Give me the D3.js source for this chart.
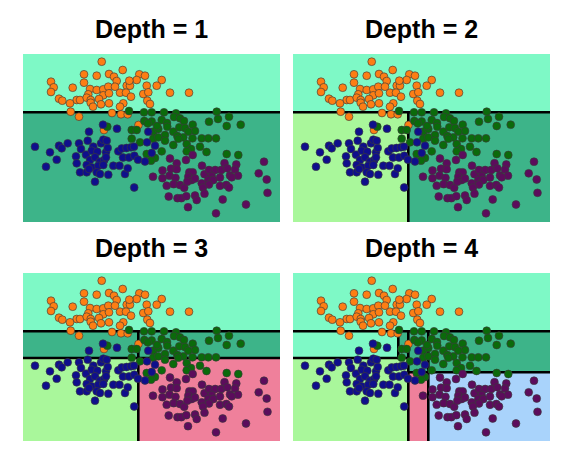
<!DOCTYPE html>
<html>
<head>
<meta charset="utf-8">
<title>decision tree depths</title>
<script src="https://cdn.jsdelivr.net/npm/d3@7"></script>
<style>
  body { margin: 0; background: #fff; }
  .title { font-family: "Liberation Sans", Arial, sans-serif; font-weight: bold; font-size: 25px; }
</style>
</head>
<body>
<div id="chart"></div>
<script>
// panel titles / tree depth shown in each panel
var depths = [1, 2, 3, 4];

// points per class, [feature 1, feature 2]
var orangePts = [[7.87,16.03],[6.10,14.77],[7.37,14.63],[8.60,14.80],[9.10,14.53],[9.37,14.10],[9.97,15.20],
  [11.63,14.77],[12.20,14.63],[11.37,14.20],[13.87,14.20],[2.80,14.03],[3.07,13.47],[2.80,13.00],[6.10,13.93],
  [4.97,13.43],[6.70,13.30],[7.37,13.20],[8.03,13.27],[8.53,13.53],[10.37,13.63],[10.70,13.63],[12.37,13.63],
  [13.37,13.63],[6.53,12.77],[8.03,12.67],[8.60,12.87],[9.70,12.93],[10.30,12.93],[10.80,12.53],[12.03,12.80],
  [12.53,12.97],[14.70,12.93],[16.60,12.93],[3.60,12.33],[3.93,12.13],[5.37,12.20],[5.70,12.20],[6.37,12.43],
  [6.77,12.20],[7.60,12.30],[4.70,11.87],[6.77,11.93],[7.00,11.53],[7.80,11.77],[8.60,11.87],[10.03,11.87],
  [9.70,11.53],[12.43,12.13],[12.70,11.80],[4.77,11.03],[5.60,10.53],[8.90,10.90],[9.80,10.77],[10.47,10.77],
  [11.55,9.70],[8.10,9.20],[10.63,14.13],[9.20,13.53]];
var greenPts = [[10.60,11.10],[12.10,10.97],[12.87,10.97],[14.10,10.97],[15.30,10.87],[15.10,10.50],[15.70,10.37],
  [16.10,10.10],[19.37,11.03],[19.50,10.30],[20.60,10.53],[18.60,10.03],[20.37,9.60],[21.77,9.73],[16.97,9.73],
  [12.13,10.10],[12.87,10.05],[13.87,10.20],[14.40,9.90],[8.43,9.53],[10.87,9.20],[11.37,9.20],[12.47,9.87],
  [13.03,9.03],[13.53,9.30],[13.40,9.60],[14.43,9.53],[15.03,9.03],[15.63,9.47],[16.20,9.40],[17.20,9.10],
  [16.53,9.03],[14.20,8.70],[15.43,8.60],[16.03,8.47],[16.95,8.37],[17.87,8.37],[18.53,8.37],[19.30,8.37],
  [10.87,8.33],[11.70,7.97],[13.03,8.33],[13.53,8.47],[14.20,8.13],[15.03,7.70],[16.37,7.80],[16.80,7.30],
  [16.37,7.07],[13.87,7.07],[12.37,6.80],[13.20,6.40],[12.80,6.13],[17.70,7.53],[18.35,7.00],[20.37,6.80],
  [21.53,6.70],[15.53,8.33]];
var bluePts = [[1.20,7.53],[2.70,6.97],[2.30,5.53],[3.37,6.23],[3.60,7.63],[3.87,7.37],[4.47,7.87],[5.60,7.87],
  [6.47,8.13],[5.80,7.30],[7.03,7.53],[7.80,7.87],[8.03,8.23],[5.30,6.57],[6.30,6.73],[6.87,7.13],[7.43,7.03],
  [8.30,6.97],[8.47,7.40],[5.37,5.87],[6.70,6.20],[7.20,6.47],[7.70,6.03],[8.13,6.20],[6.37,5.70],[6.87,5.47],
  [7.53,5.63],[8.03,5.70],[5.70,4.97],[6.37,4.97],[7.37,4.97],[7.70,4.80],[7.20,4.03],[8.53,4.73],[6.60,5.30],
  [8.30,6.47],[9.03,5.63],[9.65,5.63],[9.53,7.07],[9.87,7.35],[10.35,7.40],[10.80,7.47],[11.10,7.53],
  [10.00,6.45],[10.60,6.45],[11.13,6.63],[11.50,6.23],[12.20,6.05],[12.40,7.97],[12.87,6.90],[13.20,7.63],
  [10.20,4.80],[10.47,5.37],[11.12,3.45],[8.00,9.73],[6.60,9.03],[9.40,9.33],[12.53,9.03],[8.37,8.13]];
var purplePts = [[14.70,6.35],[15.37,5.87],[16.30,6.20],[16.97,6.70],[14.80,5.33],[15.37,5.28],[13.95,5.15],
  [13.00,4.53],[13.95,4.38],[14.65,4.63],[15.25,4.42],[14.37,3.63],[15.07,3.78],[15.70,3.70],[16.12,3.42],
  [16.63,4.97],[16.97,4.97],[16.53,4.53],[16.87,4.20],[16.43,4.03],[17.20,4.35],[17.90,5.63],[18.15,4.78],
  [18.60,5.20],[19.22,5.20],[19.82,5.20],[18.87,4.60],[18.53,4.20],[19.03,4.20],[19.70,4.45],[20.15,5.88],
  [20.43,5.37],[20.70,4.65],[21.33,5.75],[21.20,5.25],[21.50,4.63],[20.87,4.47],[17.87,3.87],[18.60,3.75],
  [18.00,3.45],[19.70,3.62],[20.33,3.70],[20.60,3.45],[18.15,2.83],[14.57,2.55],[15.45,2.38],[15.83,2.38],
  [16.33,2.58],[17.20,2.65],[17.37,2.20],[19.97,2.25],[16.50,1.48],[19.30,0.87],[22.30,1.75],[23.57,4.87],
  [24.10,6.03],[24.37,4.25],[24.45,2.92]];

// splits of the tree fitted at each max depth: depth of the split, feature, threshold
// (the depth-3 and depth-4 fits put the right-hand y split at different heights)
var treeSplits = [
  {id: 'root', depth: 1, axis: 'y', at: 10.97, lo: 'A',   hi: 'top', fits: [1, 2, 3, 4]},
  {id: 'A',    depth: 2, axis: 'x', at: 11.53, lo: 'B',   hi: 'C',   fits: [2, 3, 4]},
  {id: 'B',    depth: 3, axis: 'y', at: 8.30,  lo: 'B1',  hi: 'B2',  fits: [3, 4]},
  {id: 'C',    depth: 3, axis: 'y', at: 8.30,  lo: 'C1',  hi: 'C2',  fits: [3]},
  {id: 'C',    depth: 3, axis: 'y', at: 6.87,  lo: 'C1',  hi: 'C2',  fits: [4]},
  {id: 'B2',   depth: 4, axis: 'x', at: 10.53, lo: 'B2a', hi: 'B2b', fits: [4]},
  {id: 'C1',   depth: 4, axis: 'x', at: 13.53, lo: 'C1a', hi: 'C1b', fits: [4]},
  {id: 'C2',   depth: 4, axis: 'x', at: 13.53, lo: 'C2a', hi: 'C2b', fits: [4]}
];
// predicted region of each node
var nodeRegion = {root: 'teal', top: 'aqua', A: 'teal', B: 'lime', C: 'teal', B1: 'lime', B2: 'teal',
  C1: 'pink', C2: 'teal', B2a: 'aqua', B2b: 'teal', C1a: 'pink', C1b: 'sky', C2a: 'teal', C2b: 'teal'};

var regionColor = {aqua: '#7ef9c6', teal: '#3db489', lime: '#a9f79b', pink: '#ef809b', sky: '#a9d3fb'};
var classes = [
  {pts: orangePts, color: '#fd7e14'},
  {pts: greenPts,  color: '#0b6a0b'},
  {pts: bluePts,   color: '#0f0f8c'},
  {pts: purplePts, color: '#5c0c5c'}
];

var W = 576, H = 474;
var panelW = 257, panelH = 168;
var panelPos = [[23, 54], [293, 54], [23, 273], [293, 273]];

var svg = d3.select('#chart').append('svg')
    .attr('width', W).attr('height', H);

var x = d3.scaleLinear().domain([0, 25.7]).range([0, panelW]);
var y = d3.scaleLinear().domain([0, 16.8]).range([panelH, 0]);

svg.append('defs').append('clipPath').attr('id', 'clip')
  .append('rect').attr('width', panelW).attr('height', panelH);

depths.forEach(function(maxDepth, i) {
    var g = svg.append('g')
        .attr('transform', 'translate(' + panelPos[i][0] + ',' + panelPos[i][1] + ')');

    svg.append('text')
        .attr('class', 'title')
        .attr('x', panelPos[i][0] + panelW / 2)
        .attr('y', panelPos[i][1] - 16)
        .attr('text-anchor', 'middle')
        .text('Depth = ' + maxDepth);

    var splitById = {};
    treeSplits.forEach(function(s) {
        if (s.fits.indexOf(maxDepth) >= 0) splitById[s.id] = s;
    });

    var regions = [], lines = [];
    function walk(id, box) {
        var s = splitById[id];
        if (s && s.depth <= maxDepth) {
            var loBox = Object.assign({}, box), hiBox = Object.assign({}, box);
            if (s.axis == 'y') {
                loBox.y1 = s.at; hiBox.y0 = s.at;
                lines.push([box.x0, s.at, box.x1, s.at]);
            } else {
                loBox.x1 = s.at; hiBox.x0 = s.at;
                lines.push([s.at, box.y0, s.at, box.y1]);
            }
            walk(s.lo, loBox);
            walk(s.hi, hiBox);
        } else {
            regions.push({box: box, fill: regionColor[nodeRegion[id]]});
        }
    }
    walk('root', {x0: 0, x1: 25.7, y0: 0, y1: 16.8});

    var body = g.append('g').attr('clip-path', 'url(#clip)');

    body.selectAll('rect.region').data(regions).enter().append('rect')
        .attr('class', 'region')
        .attr('x', function(d) { return x(d.box.x0); })
        .attr('y', function(d) { return y(d.box.y1); })
        .attr('width', function(d) { return x(d.box.x1) - x(d.box.x0); })
        .attr('height', function(d) { return y(d.box.y0) - y(d.box.y1); })
        .attr('fill', function(d) { return d.fill; })
        .attr('shape-rendering', 'crispEdges');

    body.selectAll('line.split').data(lines).enter().append('line')
        .attr('class', 'split')
        .attr('x1', function(d) { return x(d[0]); })
        .attr('y1', function(d) { return y(d[1]); })
        .attr('x2', function(d) { return x(d[2]); })
        .attr('y2', function(d) { return y(d[3]); })
        .attr('stroke', '#000')
        .attr('stroke-width', 2.6)
        .attr('stroke-linecap', 'square');

    classes.forEach(function(c) {
        body.append('g').selectAll('circle').data(c.pts).enter().append('circle')
            .attr('cx', function(d) { return x(d[0]); })
            .attr('cy', function(d) { return y(d[1]); })
            .attr('r', 3.9)
            .attr('fill', c.color)
            .attr('stroke', '#3a3a3a')
            .attr('stroke-opacity', 0.8)
            .attr('stroke-width', 0.8);
    });
});
</script>
</body>
</html>
